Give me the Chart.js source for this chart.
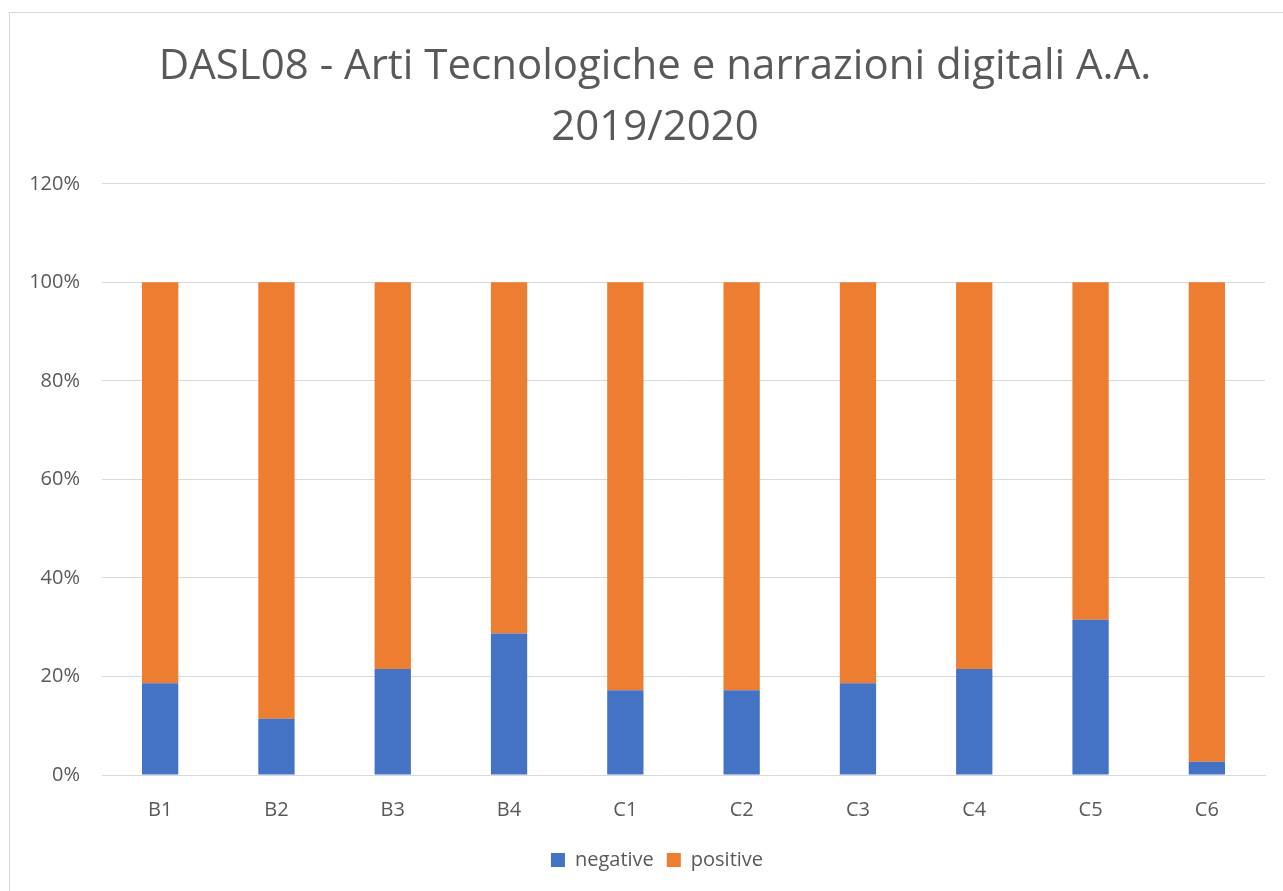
<!DOCTYPE html>
<html><head><meta charset="utf-8">
<script src="https://cdn.jsdelivr.net/npm/chart.js@4"></script>
<style>
html,body{margin:0;padding:0;background:#fff;}
#wrap{position:absolute;left:0;top:0;width:1283px;height:891px;}
#frame{position:absolute;left:9px;top:12px;width:1290px;height:900px;border:1px solid #d9d9d9;box-sizing:border-box;}
canvas{position:absolute;left:0;top:0;}
</style></head>
<body>
<div id="wrap"><div id="frame"></div><canvas id="c" width="1283" height="891"></canvas></div>
<script>
const categories = ["B1","B2","B3","B4","C1","C2","C3","C4","C5","C6"];
const negative = [18.6, 11.4, 21.5, 28.7, 17.2, 17.2, 18.6, 21.5, 31.5, 2.7];
const positive = negative.map(v => +(100 - v).toFixed(1));
const titleLines = ["DASL08 - Arti Tecnologiche e narrazioni digitali A.A.", "2019/2020"];
const FONT = "'Open Sans', 'Noto Sans', sans-serif";
const centerShift = {
  id: 'centerShift',
  afterLayout(chart) {
    const t = chart.titleBlock;
    if (t) { t.left = 45; t.right = 1265; t.width = t.right - t.left; }
    const l = chart.legend;
    if (l) { l.left = 49; l.right = 1265; l.width = l.right - l.left; }
  }
};
new Chart(document.getElementById('c'), {
  type: 'bar',
  data: {
    labels: categories,
    datasets: [
      {label: 'negative', data: negative, backgroundColor: '#4472c4', borderWidth: 0},
      {label: 'positive', data: positive, backgroundColor: '#ed7d31', borderWidth: 0}
    ]
  },
  options: {
    responsive: false,
    animation: false,
    layout: {padding: {left: 18, right: 18, top: 37, bottom: 11}},
    plugins: {
      title: {display: true, text: titleLines, color: '#595959',
        font: {family: FONT, size: 42, weight: 'normal', lineHeight: 1.45}, padding: {top: 0, bottom: 25}},
      legend: {position: 'bottom', labels: {color: '#595959', boxWidth: 14, boxHeight: 14,
        font: {family: FONT, size: 20}, padding: 13}},
      tooltip: {enabled: false}
    },
    scales: {
      x: {stacked: true, grid: {display: false}, border: {display: true, color: '#d9d9d9', width: 1},
        ticks: {color: '#595959', font: {family: FONT, size: 20}, padding: 15}},
      y: {stacked: true, min: 0, max: 120,
        grid: {color: '#d9d9d9', drawTicks: false}, border: {display: false},
        afterFit: s => { s.width = 84; },
        ticks: {stepSize: 20, color: '#595959', font: {family: FONT, size: 20}, padding: 22,
          callback: v => v + '%'}}
    },
    datasets: {bar: {categoryPercentage: 1.0, barPercentage: 0.312}}
  },
  plugins: [centerShift]
});
</script>
</body></html>
